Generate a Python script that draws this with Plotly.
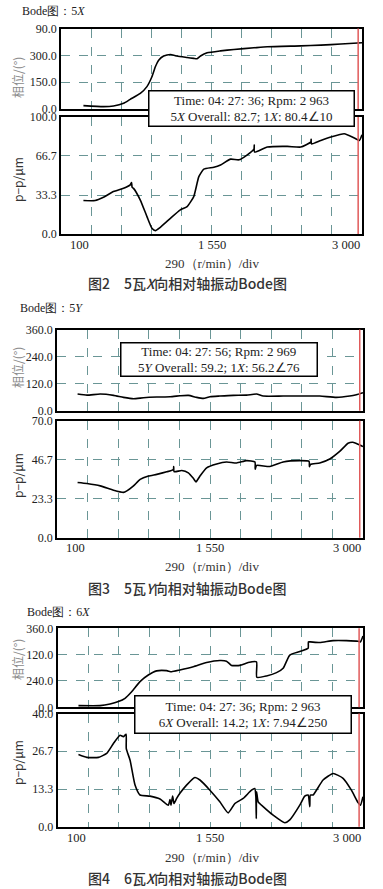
import plotly.graph_objects as go

W, H = 383, 889

# ---------------- data ----------------
# Figure 2 : 5X
rpm_5x_phase = [316, 509, 606, 703, 767, 864, 928, 976, 1009, 1041, 1089, 1154, 1218, 1315,
                1379, 1411, 1444, 1508, 1637, 1766, 1959, 2088, 2410, 2603, 2797, 3000]
phase_5x = [18.6, 13, 16.7, 31.6, 54, 87, 125, 180, 236, 273, 296, 305, 296, 288,
            283, 281, 296, 314, 325, 333, 342, 348, 353, 357, 363, 370]
rpm_5x_amp = [316, 429, 509, 606, 703, 767, 780, 785, 799, 864, 928, 976, 1009, 1057, 1154,
              1250, 1315, 1379, 1428, 1476, 1573, 1637, 1734, 1814, 1895, 1959, 1962, 1965,
              2088, 2281, 2410, 2507, 2510, 2513, 2603, 2700, 2829, 2926, 2974, 3000]
amp_5x = [28.6, 28.6, 31.4, 36.3, 39.1, 42, 44, 40, 39, 29, 14.9, 4.9, 2.9, 5.7, 13.4,
          20.6, 23.4, 32, 49, 55.4, 57, 59, 64, 63.4, 67.7, 72.6, 76, 70,
          74.3, 74.9, 74.3, 78.6, 81, 77, 80, 82.9, 85.7, 82, 80, 84.9]

# Figure 3 : 5Y
rpm_5y_phase = [295, 384, 510, 636, 730, 825, 920, 1046, 1172, 1266, 1345, 1424, 1487, 1550,
                1644, 1771, 1897, 1991, 2054, 2243, 2401, 2590, 2748, 2874, 2937, 3000]
phase_5y = [73.8, 69, 73.8, 68, 59, 53, 57.5, 60.5, 62, 66, 68, 59, 54.6, 62,
            65, 68, 69, 74, 65, 65, 65, 65, 59, 65, 71, 80]
rpm_5y_amp = [295, 384, 510, 636, 730, 762, 825, 888, 967, 1046, 1140, 1203, 1206, 1210, 1282,
              1345, 1392, 1417, 1455, 1518, 1613, 1707, 1802, 1897, 1976, 1978, 1991, 2117,
              2243, 2401, 2489, 2492, 2502, 2590, 2685, 2779, 2858, 2905, 2953, 3000]
amp_5y = [33, 32.4, 31, 28.4, 27.1, 28, 31, 34.9, 36.9, 37.9, 39.4, 40.8, 42.5, 39.5, 40.2,
          38.8, 35.5, 33.4, 36.9, 41.8, 44.1, 45.3, 44.7, 46.1, 45.3, 41, 43.2, 42.6,
          45.3, 46.1, 45.7, 42.5, 43.8, 44.7, 47.1, 51.6, 56.5, 57.1, 55.9, 54.5]

# Figure 4 : 6X
rpm_6x_phase = [299, 504, 599, 678, 741, 804, 883, 962, 1041, 1136, 1183, 1262, 1389, 1515,
                1641, 1704, 1752, 1831, 1910, 1989, 1992, 2084, 2179, 2242, 2305, 2400, 2479,
                2482, 2501, 2590, 2716, 2842, 2953, 2975, 3000]
phase_6x = [7.6, 7.6, 15, 26, 41, 71, 117, 147, 166, 167, 162, 170, 185, 204,
            213, 210, 191, 191, 204, 207, 137, 143, 158, 178, 238, 254, 269,
            298, 298, 295, 304, 304, 301, 298, 325]
rpm_6x_amp = [299, 378, 489, 567, 631, 694, 725, 751, 753, 789, 836, 883, 978, 1073, 1152,
              1168, 1177, 1193, 1205, 1231, 1262, 1325, 1404, 1452, 1547, 1641, 1720, 1784,
              1863, 1941, 1973, 1983, 1987, 1990, 2005, 2052, 2147, 2258, 2305, 2400, 2447,
              2479, 2495, 2500, 2526, 2621, 2716, 2811, 2890, 2953, 2975, 3000]
amp_6x = [25.5, 24.5, 24.5, 25.9, 29.4, 32.3, 31.8, 32.7, 27.6, 23.5, 14.7, 11.2, 10.8, 9.8, 7.6,
          9.6, 7.6, 10.8, 8.2, 10, 11.8, 14.7, 17.4, 16.5, 12.9, 8.8, 4.9, 8.2,
          10, 12.9, 13.5, 10.6, 2.9, 12.3, 8.8, 7.1, 4.1, 1.4, 2.4, 7.6, 10.8,
          11.2, 7.1, 11.2, 11.2, 16.5, 18.8, 17.1, 12.9, 8.5, 7.6, 10.6]

x_min, x_max, x_div = 100, 3000, 290
x_tick_labels = ["100", "1 550", "3 000"]
cursor_rpm = [2963, 2969, 2963]
titles = ["Bode图：5<i>X</i>", "Bode图：5<i>Y</i>", "Bode图：6<i>X</i>"]
captions = ["图2　5瓦<i>X</i>向相对轴振动Bode图", "图3　5瓦<i>Y</i>向相对轴振动Bode图",
            "图4　6瓦<i>X</i>向相对轴振动Bode图"]
box_texts = [
    "Time: 04: 27: 36; Rpm: 2 963<br>5<i>X</i> Overall: 82.7; 1<i>X</i>: 80.4∠10",
    "Time: 04: 27: 56; Rpm: 2 969<br>5<i>Y</i> Overall: 59.2; 1<i>X</i>: 56.2∠76",
    "Time: 04: 27: 36; Rpm: 2 963<br>6<i>X</i> Overall: 14.2; 1<i>X</i>: 7.94∠250",
]
phase_ranges = [450, 360, 360]
phase_tickvals = [[0, 150, 300, 450], [0, 120, 240, 360], [0, 120, 240, 360]]
phase_ticktext = [["0.0", "150.0", "300.0", "90.0"], ["0.0", "120.0", "240.0", "360.0"],
                  ["0.0", "240.0", "120.0", "360.0"]]
amp_ranges = [100, 70, 40]
amp_tickvals = [[0, 33.3, 66.7, 100], [0, 23.3, 46.7, 70], [0, 13.3, 26.7, 40]]
amp_ticktext = [["0.0", "33.3", "66.7", "100.0"], ["0.0", "23.3", "46.7", "70.0"],
                ["0.0", "13.3", "26.7", "40.0"]]

# ---------------- layout geometry (pixels) ----------------
panels = [
    dict(xl=61, xr=362, ph=(28.5, 109), am=(117, 234), title_y=11, title_x=20,
         box=(149, 355, 91, 127), xlab_y=245, xtitle_y=263, cap_y=283, ph_lab=78, am_lab=180),
    dict(xl=57, xr=363, ph=(329.5, 410.7), am=(420.7, 537.7), title_y=308, title_x=18,
         box=(120, 317, 342, 376), xlab_y=548, xtitle_y=566, cap_y=588, ph_lab=368, am_lab=476),
    dict(xl=57.5, xr=363, ph=(628.3, 707.3), am=(713.5, 826.7), title_y=612, title_x=25,
         box=(134, 351, 695, 733), xlab_y=838, xtitle_y=857, cap_y=878, ph_lab=660, am_lab=763),
]

def px(x):
    return x / W

def py(y):
    return 1 - y / H

series = [(rpm_5x_phase, phase_5x, rpm_5x_amp, amp_5x),
          (rpm_5y_phase, phase_5y, rpm_5y_amp, amp_5y),
          (rpm_6x_phase, phase_6x, rpm_6x_amp, amp_6x)]

SERIF = "Liberation Serif, Times New Roman, serif"
CJK = "Noto Sans CJK SC, sans-serif"
GRID = "#6a9696"

fig = go.Figure()
layout = dict(width=W, height=H, margin=dict(l=0, r=0, t=0, b=0, autoexpand=False),
              paper_bgcolor="white", plot_bgcolor="white", showlegend=False)
annotations = []
shapes = []

for i, (p, s) in enumerate(zip(panels, series)):
    for j in range(2):
        k = 2 * i + j + 1
        xa = "x" if k == 1 else f"x{k}"
        ya = "y" if k == 1 else f"y{k}"
        xs, ys = (s[0], s[1]) if j == 0 else (s[2], s[3])
        fig.add_trace(go.Scatter(x=xs, y=ys, mode="lines", xaxis=xa, yaxis=ya,
                                 line=dict(color="black", width=1.6, shape="spline", smoothing=0.5),
                                 hoverinfo="skip"))
        top, bot = p["ph"] if j == 0 else p["am"]
        layout["xaxis" if k == 1 else f"xaxis{k}"] = dict(
            domain=[px(p["xl"]), px(p["xr"])], anchor=ya, range=[x_min, x_max],
            tickmode="linear", tick0=x_min, dtick=x_div, showticklabels=False, ticks="",
            showgrid=True, gridcolor=GRID, griddash="dash", gridwidth=1, automargin=False,
            showline=True, mirror=True, linecolor="black", linewidth=1.5, zeroline=False)
        if j == 0:
            rng, tv, tt = phase_ranges[i], phase_tickvals[i], phase_ticktext[i]
        else:
            rng, tv, tt = amp_ranges[i], amp_tickvals[i], amp_ticktext[i]
        layout["yaxis" if k == 1 else f"yaxis{k}"] = dict(
            domain=[py(bot), py(top)], anchor=xa, range=[0, rng],
            tickmode="array", tickvals=tv, ticktext=tt, ticks="", automargin=False,
            tickfont=dict(family=SERIF, size=12, color="#222"),
            showgrid=True, gridcolor=GRID, griddash="dash", gridwidth=1,
            showline=True, mirror=True, linecolor="black", linewidth=1.5, zeroline=False)
        shapes.append(dict(type="line", xref=xa, yref=f"{ya} domain",
                           x0=cursor_rpm[i], x1=cursor_rpm[i], y0=0, y1=1,
                           line=dict(color="#e05a5a", width=1.5)))

    # Title
    annotations.append(dict(text=titles[i], x=px(p["title_x"]), y=py(p["title_y"]),
                            xref="paper", yref="paper", xanchor="left", yanchor="middle",
                            showarrow=False, font=dict(family=SERIF, size=12, color="#222")))
    # Y axis titles
    annotations.append(dict(text="相位/(°)", x=px(17), y=py(p["ph_lab"]), xref="paper",
                            yref="paper", textangle=-90, showarrow=False,
                            xanchor="center", yanchor="middle",
                            font=dict(family=CJK, size=12, color="#8a8a8a")))
    annotations.append(dict(text="p−p/μm", x=px(17), y=py(p["am_lab"]), xref="paper",
                            yref="paper", textangle=-90, showarrow=False,
                            xanchor="center", yanchor="middle",
                            font=dict(family=CJK, size=12, color="#333")))
    # X tick labels
    xa_b = f"x{2 * i + 2}"
    annotations.append(dict(text=x_tick_labels[0], x=px(p["xl"] + 7), y=py(p["xlab_y"]),
                            xref="paper", yref="paper", xanchor="left", yanchor="middle",
                            showarrow=False, font=dict(family=SERIF, size=12.5, color="#222")))
    annotations.append(dict(text=x_tick_labels[1], x=(x_min + x_max) / 2, y=py(p["xlab_y"]),
                            xref=xa_b, yref="paper", xanchor="center", yanchor="middle",
                            showarrow=False, font=dict(family=SERIF, size=12.5, color="#222")))
    annotations.append(dict(text=x_tick_labels[2], x=px(p["xr"]), y=py(p["xlab_y"]),
                            xref="paper", yref="paper", xanchor="right", yanchor="middle",
                            showarrow=False, font=dict(family=SERIF, size=12.5, color="#222")))
    annotations.append(dict(text="290（r/min）/div", x=px(212), y=py(p["xtitle_y"]),
                            xref="paper", yref="paper", showarrow=False,
                            xanchor="center", yanchor="middle",
                            font=dict(family=SERIF, size=13, color="#333")))
    annotations.append(dict(text=captions[i], x=px(187), y=py(p["cap_y"]),
                            xref="paper", yref="paper", showarrow=False,
                            xanchor="center", yanchor="middle",
                            font=dict(family=CJK, size=14, color="#333", weight=500)))
    # info box
    bl, br, bt, bb = p["box"]
    annotations.append(dict(text=box_texts[i], x=px((bl + br) / 2), y=py((bt + bb) / 2),
                            xref="paper", yref="paper", showarrow=False,
                            xanchor="center", yanchor="middle",
                            width=br - bl - 4, height=bb - bt - 4, borderpad=1,
                            bgcolor="white", bordercolor="black", borderwidth=1.5,
                            font=dict(family=SERIF, size=13, color="#222")))

layout["annotations"] = annotations
layout["shapes"] = shapes
fig.update_layout(**layout)
fig.write_html("out.html", config={"displayModeBar": False},
               post_script="document.body.style.margin='0';document.body.style.overflow='hidden';")
